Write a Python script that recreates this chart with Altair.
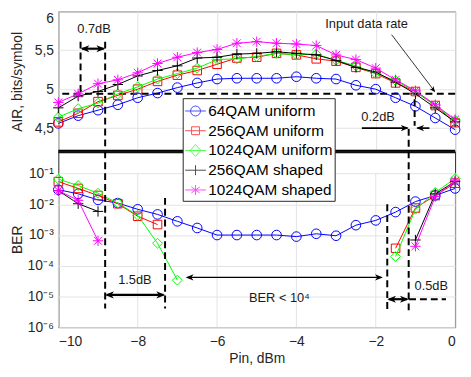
import altair as alt
import pandas as pd

# ---------------- data ----------------
x_pin = [-10, -9.5, -9, -8.5, -8, -7.5, -7, -6.5, -6, -5.5, -5,
         -4.5, -4, -3.5, -3, -2.5, -2, -1.5, -1, -0.5, 0]

series_names = ["64QAM uniform", "256QAM uniform", "1024QAM uniform",
                "256QAM shaped", "1024QAM shaped"]
series_colors = ["#0000ff", "#ff0000", "#00ff00", "#000000", "#ff00ff"]

air_64u = [4.56, 4.66, 4.73, 4.80, 4.89, 4.95, 5.02, 5.08, 5.13, 5.14, 5.14,
           5.14, 5.16, 5.14, 5.13, 5.05, 5.00, 4.89, 4.78, 4.63, 4.48]
air_256u = [4.58, 4.69, 4.84, 4.92, 5.00, 5.10, 5.18, 5.24, 5.32, 5.40, 5.41,
            5.46, 5.44, 5.39, 5.36, 5.28, 5.20, 5.08, 4.97, 4.79, 4.57]
air_1024u = [4.64, 4.75, 4.82, 4.94, 5.03, 5.13, 5.20, 5.27, 5.38, 5.39, 5.42,
             5.46, 5.44, 5.45, 5.37, 5.30, 5.20, 5.11, 4.97, 4.79, 4.60]
air_256s = [4.76, 4.91, 4.97, 5.06, 5.17, 5.24, 5.30, 5.40, 5.41, 5.45, 5.46,
            5.48, 5.46, 5.44, 5.37, 5.28, 5.22, 5.09, 4.94, 4.76, 4.58]
air_1024s = [4.83, 4.94, 5.07, 5.12, 5.21, 5.33, 5.41, 5.47, 5.51, 5.59, 5.61,
             5.59, 5.58, 5.56, 5.44, 5.38, 5.27, 5.12, 4.98, 4.80, 4.61]

ber_64u_x = x_pin
ber_64u = [0.030, 0.022, 0.014, 0.011, 0.0069, 0.0047, 0.0028, 0.0017, 0.0010, 0.0010, 0.0010,
           0.0010, 0.00089, 0.0011, 0.00095, 0.0021, 0.0030, 0.0056, 0.0123, 0.0195, 0.033]
ber_256u_x = [-10, -9.5, -9, -8.5, -8, -7.5, -1.5, -1, -0.5, 0]
ber_256u = [0.055, 0.033, 0.0195, 0.0105, 0.0041, 0.0022, 0.00037, 0.0076, 0.0195, 0.049]
ber_1024u_x = [-10, -9.5, -9, -8.5, -8, -7.5, -7, -1.5, -1, -0.5, 0]
ber_1024u = [0.066, 0.041, 0.023, 0.011, 0.0044, 0.00054, 0.000034, 0.0002, 0.0069, 0.0245, 0.069]
ber_256s_x = [-10, -9.5, -9, -1, -0.5, 0]
ber_256s = [0.028, 0.0105, 0.0059, 0.00069, 0.022, 0.055]
ber_1024s_x = [-10, -9.5, -9, -1, -0.5, 0]
ber_1024s = [0.028, 0.0135, 0.00065, 0.00043, 0.018, 0.059]

input_rate = 4.94
x_ticks = [-10, -8, -6, -4, -2, 0]
air_ticks = [4.5, 5, 5.5, 6]
ber_ticks = [1e-6, 1e-5, 1e-4, 1e-3, 1e-2, 1e-1]

# ---------------- styles ----------------
FONT = "Liberation Sans"
PLUS = "M-1,0L1,0M0,-1L0,1"
STAR = "M-1,0L1,0M0,-1L0,1M-0.75,-0.75L0.75,0.75M-0.75,0.75L0.75,-0.75"
marker_shapes = ["circle", "square", "diamond", PLUS, STAR]
marker_sizes = [95, 75, 100, 110, 110]
# legend symbols: a short line with the marker, drawn inside the unit box
LINE = "M-1,0L1,0"
legend_paths = [
    LINE + "M-0.48,0A0.48,0.48 0 1,0 0.48,0A0.48,0.48 0 1,0 -0.48,0",
    LINE + "M-0.38,-0.38L0.38,-0.38L0.38,0.38L-0.38,0.38Z",
    LINE + "M0,-0.57L0.52,0L0,0.57L-0.52,0Z",
    LINE + "M0,-0.48L0,0.48",
    LINE + "M0,-0.48L0,0.48M-0.4,-0.29L0.4,0.29M-0.4,0.29L0.4,-0.29",
]
ARROW = "M0,0L-2.2,-0.9L-1.6,0L-2.2,0.9Z"
GRID = "#e3e3e3"

air_lists = [air_64u, air_256u, air_1024u, air_256s, air_1024s]
ber_lists = [(ber_64u_x, ber_64u), (ber_256u_x, ber_256u), (ber_1024u_x, ber_1024u),
             (ber_256s_x, ber_256s), (ber_1024s_x, ber_1024s)]

rows = []
for name, vals in zip(series_names, air_lists):
    for xv, yv in zip(x_pin, vals):
        rows.append({"x": xv, "y": yv, "series": name})
air_df = pd.DataFrame(rows)

rows = []
for name, (xs, vals) in zip(series_names, ber_lists):
    seg = 0
    for i, (xv, yv) in enumerate(zip(xs, vals)):
        if i > 0 and xv - xs[i - 1] > 0.75:
            seg += 1
        rows.append({"x": xv, "y": yv, "series": name, "seg": seg})
ber_df = pd.DataFrame(rows)

color_scale = alt.Scale(domain=series_names, range=series_colors)

# ---------------- top panel (AIR) ----------------
X_top = alt.X("x:Q", scale=alt.Scale(domain=[-10, 0], nice=False),
              axis=alt.Axis(values=x_ticks, labels=False, ticks=False, domain=False,
                            title=None, grid=True, gridColor=GRID))
Y_top = alt.Y("y:Q", scale=alt.Scale(domain=[4.2, 6], nice=False, zero=False),
              axis=alt.Axis(values=air_ticks, title="AIR, bits/symbol",
                            labelExpr="replace(toString(datum.value), '.', ',')",
                            grid=True, gridColor=GRID, domain=False, ticks=False,
                            labelFlush=False, labelPadding=5,
                            labelOffset={"condition": {"test": "datum.value >= 5.9", "value": 7},
                                         "value": 0},
                            titleX=-34))

base_top = alt.Chart(air_df)

top_layers = []
top_layers.append(alt.Chart(pd.DataFrame({"y": [input_rate]})).mark_rule(
    color="black", strokeWidth=2, strokeDash=[7, 4.5]).encode(y=Y_top))
for name, col, shp, sz in zip(series_names, series_colors, marker_shapes, marker_sizes):
    sub = base_top.transform_filter(alt.datum.series == name)
    top_layers.append(sub.mark_line(strokeWidth=1, color=col).encode(x=X_top, y=Y_top))
    top_layers.append(sub.mark_point(shape=shp, filled=False, color=col, size=sz,
                                     strokeWidth=1, opacity=1).encode(x=X_top, y=Y_top))

top_dash = pd.DataFrame({
    "x": [-9.44, -8.82, -1.02, -1.17],
    "y": [5.61, 5.61, 4.87, 4.49],
    "y2": [input_rate, 4.2, 4.53, 4.2],
})
top_layers.append(alt.Chart(top_dash).mark_rule(color="black", strokeWidth=2, strokeDash=[7, 4]).encode(
    x=X_top, y=Y_top, y2="y2:Q"))
top_shaft = pd.DataFrame({
    "x": [-9.40, -2.35, -0.647, -1.60],
    "x2": [-8.86, -1.20, -0.95, -0.52],
    "y": [5.52, 4.50, 4.50, 5.70],
    "y2": [5.52, 4.50, 4.50, 4.975],
    "w": [2.2, 1.7, 1.7, 0.8],
})
top_layers.append(alt.Chart(top_shaft).mark_rule(color="black").encode(
    x=X_top, x2="x2:Q", y=Y_top, y2="y2:Q",
    strokeWidth=alt.StrokeWidth("w:Q", scale=None)))
top_heads = pd.DataFrame({
    "x": [-9.44, -8.82, -1.17, -0.98, -0.505],
    "y": [5.52, 5.52, 4.50, 4.50, 4.96],
    "angle": [180, 0, 0, 180, 53],
    "s": [64, 64, 52, 52, 30],
})
top_layers.append(alt.Chart(top_heads).mark_point(shape=ARROW, filled=True, color="black",
                                                  opacity=1, strokeWidth=0).encode(
    x=X_top, y=Y_top, angle=alt.Angle("angle:Q", scale=None),
    size=alt.Size("s:Q", scale=None)))
top_text = pd.DataFrame({
    "x": [-9.10, -2.23, -1.94],
    "y": [5.77, 5.83, 4.64],
    "t": ["0.7dB", "Input data rate", "0.2dB"],
})
top_layers.append(alt.Chart(top_text).mark_text(font=FONT, fontSize=13, color="#1a1a1a").encode(
    x=X_top, y=Y_top, text="t:N"))
top_layers.append(alt.Chart(pd.DataFrame({"y": [4.2]})).mark_rule(
    color="black", strokeWidth=3.5).encode(y=Y_top))

top = alt.layer(*top_layers).properties(width=402, height=142)

# ---------------- bottom panel (BER) ----------------
ber_top = 10 ** (-0.277)
X_bot = alt.X("x:Q", scale=alt.Scale(domain=[-10, 0], nice=False),
              axis=alt.Axis(values=x_ticks, title="Pin, dBm", grid=False, ticks=False,
                            domain=False, labelPadding=8, titlePadding=3))
label_expr = ("datum.value < 3e-6 ? '10⁻⁶' : datum.value < 3e-5 ? '10⁻⁵' : "
              "datum.value < 3e-4 ? '10⁻⁴' : datum.value < 3e-3 ? '10⁻³' : "
              "datum.value < 3e-2 ? '10⁻²' : '10⁻¹'")
Y_bot = alt.Y("y:Q", scale=alt.Scale(type="log", domain=[1e-6, ber_top], nice=False),
              axis=alt.Axis(values=ber_ticks, title="BER", labelExpr=label_expr,
                            grid=True, gridColor=GRID, domain=False, ticks=False,
                            labelFlush=False, labelPadding=5, titleX=-34))

bot_layers = []
vgrid = pd.DataFrame({"x": x_ticks, "y": [1e-6] * 6, "y2": [1e-1] * 6})
bot_layers.append(alt.Chart(vgrid).mark_rule(color=GRID, strokeWidth=1).encode(
    x=X_bot, y=Y_bot, y2="y2:Q"))
base_bot = alt.Chart(ber_df)
for name, col, shp, sz in zip(series_names, series_colors, marker_shapes, marker_sizes):
    sub = base_bot.transform_filter(alt.datum.series == name)
    bot_layers.append(sub.mark_line(strokeWidth=1, color=col).encode(
        x=X_bot, y=Y_bot, detail="seg:N"))
    bot_layers.append(sub.mark_point(shape=shp, filled=False, color=col, size=sz,
                                     strokeWidth=1, opacity=1).encode(x=X_bot, y=Y_bot))

bot_dash_log = [(-8.82, -0.277, -5.39), (-7.31, -1.79, -5.39), (-1.71, -2.0, -5.54),
                (-1.17, -0.277, -5.54)]
bot_dash = pd.DataFrame({"x": [d[0] for d in bot_dash_log],
                         "y": [10 ** d[1] for d in bot_dash_log],
                         "y2": [10 ** d[2] for d in bot_dash_log]})
bot_layers.append(alt.Chart(bot_dash).mark_rule(color="black", strokeWidth=2, strokeDash=[7, 4]).encode(
    x=X_bot, y=Y_bot, y2="y2:Q"))
hdash = pd.DataFrame({"x": [-1.16], "x2": [-0.23], "y": [10 ** -5.09]})
bot_layers.append(alt.Chart(hdash).mark_rule(color="black", strokeWidth=2, strokeDash=[7, 4]).encode(
    x=X_bot, x2="x2:Q", y=Y_bot))
bot_shaft = pd.DataFrame({
    "x": [-8.78, -6.75, -1.67],
    "x2": [-7.35, -1.86, -1.21],
    "y": [10 ** -4.95, 10 ** -4.38, 10 ** -5.09],
    "w": [2.2, 1.3, 2.2],
})
bot_layers.append(alt.Chart(bot_shaft).mark_rule(color="black").encode(
    x=X_bot, x2="x2:Q", y=Y_bot, strokeWidth=alt.StrokeWidth("w:Q", scale=None)))
bot_heads = pd.DataFrame({
    "x": [-8.82, -7.31, -6.79, -1.82, -1.71, -1.17],
    "y": [10 ** -4.95, 10 ** -4.95, 10 ** -4.38, 10 ** -4.38, 10 ** -5.09, 10 ** -5.09],
    "angle": [180, 0, 180, 0, 180, 0],
    "s": [64, 64, 52, 52, 64, 64],
})
bot_layers.append(alt.Chart(bot_heads).mark_point(shape=ARROW, filled=True, color="black",
                                                  opacity=1, strokeWidth=0).encode(
    x=X_bot, y=Y_bot, angle=alt.Angle("angle:Q", scale=None),
    size=alt.Size("s:Q", scale=None)))
bot_text = pd.DataFrame({
    "x": [-8.07, -4.43, -0.60],
    "y": [10 ** -4.47, 10 ** -5.06, 10 ** -4.65],
    "t": ["1.5dB", "BER < 10⁴", "0.5dB"],
})
bot_layers.append(alt.Chart(bot_text).mark_text(font=FONT, fontSize=13, color="#1a1a1a").encode(
    x=X_bot, y=Y_bot, text="t:N"))

# legend-only layer (clipped away), provides the combined line+marker legend
legend_df = pd.DataFrame({"x": [-20] * 5, "y": [1e-3] * 5, "series": series_names})
leg = alt.Legend(title=None, orient="none", legendX=126, legendY=-54, fillColor="white",
                 strokeColor="#262626", padding=2, symbolOffset=0, labelOffset=2,
                 rowPadding=0, labelFontSize=15.5, labelFont=FONT, labelColor="black",
                 symbolSize=441, symbolStrokeWidth=1)
bot_layers.append(alt.Chart(legend_df).mark_point(clip=True, filled=False, strokeWidth=1).encode(
    x=X_bot, y=Y_bot,
    color=alt.Color("series:N", scale=color_scale, legend=leg),
    shape=alt.Shape("series:N", scale=alt.Scale(domain=series_names, range=legend_paths), legend=leg)))

bottom = alt.layer(*bot_layers).properties(width=402, height=178)

chart = alt.vconcat(top, bottom, spacing=0, bounds="flush").resolve_legend(
    color="independent", shape="independent"
).properties(
    padding={"left": 2, "top": 0, "right": 0, "bottom": -4}
).configure_view(stroke="#262626", strokeWidth=1).configure_axis(
    labelFont=FONT, titleFont=FONT, labelFontSize=14, titleFontSize=14,
    titleFontWeight="normal", labelColor="#262626", titleColor="#262626"
)

chart.save("out.html", embed_options={"renderer": "svg", "actions": False})
